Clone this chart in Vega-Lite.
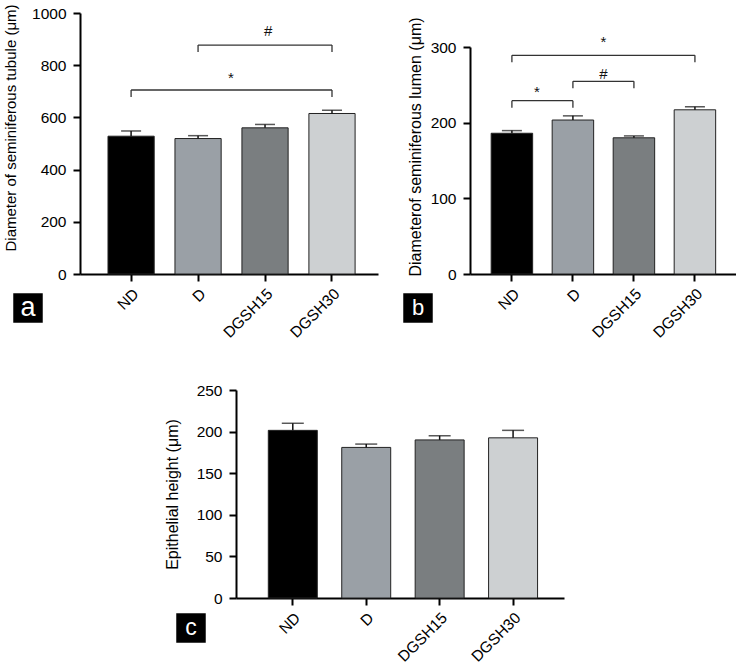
{
  "$schema": "https://vega.github.io/schema/vega-lite/v6.json",
  "background": "white",
  "padding": {"left": 3, "top": 3, "right": 0, "bottom": 0},
  "config": {
    "font": "Liberation Sans",
    "view": {"stroke": null},
    "axis": {
      "grid": false,
      "domainColor": "#000",
      "domainWidth": 2,
      "tickColor": "#000",
      "tickWidth": 2,
      "tickSize": 7,
      "labelColor": "#000",
      "labelFontSize": 15.5,
      "labelPadding": 5,
      "titleColor": "#000",
      "titleFontWeight": "normal"
    },
    "axisY": {"labelPadding": 7, "format": "d"},
    "axisX": {"labelAngle": -45, "title": null},
    "legend": {"title": null, "orient": "none", "padding": 0, "symbolType": "square", "symbolSize": 870, "symbolStrokeWidth": 0, "labelColor": "#ffffff", "labelFont": "Liberation Sans", "labelAlign": "center", "labelOffset": -15},
    "text": {"font": "Liberation Sans"}
  },
  "datasets": {
    "bars_a": [
      {"group": "ND", "mean": 528, "upper": 548},
      {"group": "D", "mean": 519, "upper": 530},
      {"group": "DGSH15", "mean": 560, "upper": 573},
      {"group": "DGSH30", "mean": 615, "upper": 627}
    ],
    "sig_a": [
      {"from": "D", "to": "DGSH30", "mid": "DGSH15", "y": 877, "label": "#", "label_y": 931},
      {"from": "ND", "to": "DGSH30", "mid": "D|DGSH15", "y": 705, "label": "*", "label_y": 751}
    ],
    "bars_b": [
      {"group": "ND", "mean": 186, "upper": 189.5},
      {"group": "D", "mean": 203.5, "upper": 209},
      {"group": "DGSH15", "mean": 180, "upper": 182.5},
      {"group": "DGSH30", "mean": 217, "upper": 221}
    ],
    "sig_b": [
      {"from": "ND", "to": "DGSH30", "mid": "D|DGSH15", "y": 289, "label": "*", "label_y": 306},
      {"from": "D", "to": "DGSH15", "mid": "D|DGSH15", "y": 254.7, "label": "#", "label_y": 264.4},
      {"from": "ND", "to": "D", "mid": "ND|D", "y": 229, "label": "*", "label_y": 241}
    ],
    "bars_c": [
      {"group": "ND", "mean": 201.5, "upper": 210},
      {"group": "D", "mean": 181, "upper": 185},
      {"group": "DGSH15", "mean": 190, "upper": 195},
      {"group": "DGSH30", "mean": 192.5, "upper": 201.5}
    ]
  },
  "spacing": 42,
  "resolve": {"scale": {"color": "independent"}, "legend": {"color": "independent"}},
  "vconcat": [
    {
      "bounds": "flush",
      "spacing": 92,
      "resolve": {"scale": {"color": "independent"}, "legend": {"color": "independent"}},
      "hconcat": [
        {
          "width": 298,
          "height": 261,
          "data": {"name": "bars_a"},
          "resolve": {"scale": {"x": "independent"}},
          "layer": [
            {
              "layer": [
                {
                  "mark": {"type": "bar", "stroke": "#222", "strokeWidth": 1},
                  "encoding": {
                    "x": {"field": "group", "type": "nominal", "scale": {"domain": ["ND", "D", "DGSH15", "DGSH30"], "paddingInner": 0.31, "paddingOuter": 0.38, "align": 0.55}},
                    "y": {"field": "mean", "type": "quantitative", "scale": {"domain": [0, 1000], "nice": false}, "axis": {"title": "Diameter of seminiferous tubule (μm)", "values": [0, 200, 400, 600, 800, 1000], "titleFontSize": 15, "titleY": 114.5, "titlePadding": 13.5}},
                    "color": {"field": "group", "type": "nominal", "scale": {"domain": ["ND", "D", "DGSH15", "DGSH30"], "range": ["#000000", "#9aa0a6", "#7a7e80", "#cdd0d2"]}, "legend": {"values": ["ND"], "legendX": -67, "legendY": 280, "labelExpr": "'a'", "labelFontSize": 27}}
                  }
                },
                {
                  "mark": {"type": "rule", "strokeWidth": 1.5, "color": "#111"},
                  "encoding": {"x": {"field": "group", "type": "nominal"}, "y": {"field": "mean", "type": "quantitative"}, "y2": {"field": "upper"}}
                },
                {
                  "mark": {"type": "tick", "thickness": 1.5, "size": 20, "color": "#111"},
                  "encoding": {"x": {"field": "group", "type": "nominal"}, "y": {"field": "upper", "type": "quantitative"}}
                },
                {
                  "data": {"name": "sig_a"},
                  "mark": {"type": "rule", "strokeWidth": 1.3, "color": "#333"},
                  "encoding": {"x": {"field": "from", "type": "nominal"}, "x2": {"field": "to"}, "y": {"field": "y", "type": "quantitative"}}
                },
                {
                  "data": {"name": "sig_a"},
                  "mark": {"type": "rule", "strokeWidth": 1.3, "color": "#333", "y2Offset": 7},
                  "encoding": {"x": {"field": "from", "type": "nominal"}, "y": {"field": "y", "type": "quantitative"}, "y2": {"field": "y"}}
                },
                {
                  "data": {"name": "sig_a"},
                  "mark": {"type": "rule", "strokeWidth": 1.3, "color": "#333", "y2Offset": 7},
                  "encoding": {"x": {"field": "to", "type": "nominal"}, "y": {"field": "y", "type": "quantitative"}, "y2": {"field": "y"}}
                }
              ]
            },
            {
              "data": {"name": "sig_a"},
              "mark": {"type": "text", "fontSize": 15, "color": "#111"},
              "encoding": {
                "x": {"field": "mid", "type": "nominal", "scale": {"type": "point", "domain": ["ND", "ND|D", "D", "D|DGSH15", "DGSH15", "DGSH15|DGSH30", "DGSH30"], "padding": 1.45, "align": 0.526}, "axis": null},
                "y": {"field": "label_y", "type": "quantitative"},
                "text": {"field": "label"}
              }
            }
          ]
        },
        {
          "width": 266,
          "height": 261,
          "data": {"name": "bars_b"},
          "resolve": {"scale": {"x": "independent"}},
          "layer": [
            {
              "layer": [
                {
                  "mark": {"type": "bar", "stroke": "#222", "strokeWidth": 1},
                  "encoding": {
                    "x": {"field": "group", "type": "nominal", "scale": {"domain": ["ND", "D", "DGSH15", "DGSH30"], "paddingInner": 0.32, "paddingOuter": 0.34, "align": 0.51}},
                    "y": {"field": "mean", "type": "quantitative", "scale": {"domain": [0, 300], "nice": false, "range": [261, 34]}, "axis": {"title": "Diameterof seminiferous lumen (μm)", "values": [0, 100, 200, 300], "titleFontSize": 16, "titleY": 133.5, "titlePadding": 7}},
                    "color": {"field": "group", "type": "nominal", "scale": {"domain": ["ND", "D", "DGSH15", "DGSH30"], "range": ["#000000", "#9aa0a6", "#7a7e80", "#cdd0d2"]}, "legend": {"values": ["ND"], "legendX": -67, "legendY": 280, "labelExpr": "'b'", "labelFontSize": 22}}
                  }
                },
                {
                  "mark": {"type": "rule", "strokeWidth": 1.5, "color": "#111"},
                  "encoding": {"x": {"field": "group", "type": "nominal"}, "y": {"field": "mean", "type": "quantitative"}, "y2": {"field": "upper"}}
                },
                {
                  "mark": {"type": "tick", "thickness": 1.5, "size": 20, "color": "#111"},
                  "encoding": {"x": {"field": "group", "type": "nominal"}, "y": {"field": "upper", "type": "quantitative"}}
                },
                {
                  "data": {"name": "sig_b"},
                  "mark": {"type": "rule", "strokeWidth": 1.3, "color": "#333"},
                  "encoding": {"x": {"field": "from", "type": "nominal"}, "x2": {"field": "to"}, "y": {"field": "y", "type": "quantitative"}}
                },
                {
                  "data": {"name": "sig_b"},
                  "mark": {"type": "rule", "strokeWidth": 1.3, "color": "#333", "y2Offset": 7},
                  "encoding": {"x": {"field": "from", "type": "nominal"}, "y": {"field": "y", "type": "quantitative"}, "y2": {"field": "y"}}
                },
                {
                  "data": {"name": "sig_b"},
                  "mark": {"type": "rule", "strokeWidth": 1.3, "color": "#333", "y2Offset": 7},
                  "encoding": {"x": {"field": "to", "type": "nominal"}, "y": {"field": "y", "type": "quantitative"}, "y2": {"field": "y"}}
                }
              ]
            },
            {
              "data": {"name": "sig_b"},
              "mark": {"type": "text", "fontSize": 15, "color": "#111"},
              "encoding": {
                "x": {"field": "mid", "type": "nominal", "scale": {"type": "point", "domain": ["ND", "ND|D", "D", "D|DGSH15", "DGSH15", "DGSH15|DGSH30", "DGSH30"], "padding": 1.36, "align": 0.505}, "axis": null},
                "y": {"field": "label_y", "type": "quantitative"},
                "text": {"field": "label"}
              }
            }
          ]
        }
      ]
    },
    {
      "bounds": "flush",
      "spacing": 56,
      "resolve": {"scale": {"color": "independent"}, "legend": {"color": "independent"}},
      "hconcat": [
        {
          "width": 100,
          "height": 10,
          "data": {"values": []},
          "mark": {"type": "point", "opacity": 0},
          "encoding": {}
        },
        {
          "width": 328,
          "height": 208,
          "data": {"name": "bars_c"},
          "layer": [
            {
              "mark": {"type": "bar", "stroke": "#222", "strokeWidth": 1},
              "encoding": {
                "x": {"field": "group", "type": "nominal", "scale": {"domain": ["ND", "D", "DGSH15", "DGSH30"], "paddingInner": 0.333, "paddingOuter": 0.4, "align": 0.55}},
                "y": {"field": "mean", "type": "quantitative", "scale": {"domain": [0, 250], "nice": false}, "axis": {"title": "Epithelial height (μm)", "values": [0, 50, 100, 150, 200, 250], "titleFontSize": 16, "titlePadding": 16}},
                "color": {"field": "group", "type": "nominal", "scale": {"domain": ["ND", "D", "DGSH15", "DGSH30"], "range": ["#000000", "#9aa0a6", "#7a7e80", "#cdd0d2"]}, "legend": {"values": ["ND"], "legendX": -60, "legendY": 223, "labelExpr": "'c'", "labelFontSize": 23}}
              }
            },
            {
              "mark": {"type": "rule", "strokeWidth": 1.5, "color": "#111"},
              "encoding": {"x": {"field": "group", "type": "nominal"}, "y": {"field": "mean", "type": "quantitative"}, "y2": {"field": "upper"}}
            },
            {
              "mark": {"type": "tick", "thickness": 1.5, "size": 22, "color": "#111"},
              "encoding": {"x": {"field": "group", "type": "nominal"}, "y": {"field": "upper", "type": "quantitative"}}
            }
          ]
        }
      ]
    }
  ]
}
